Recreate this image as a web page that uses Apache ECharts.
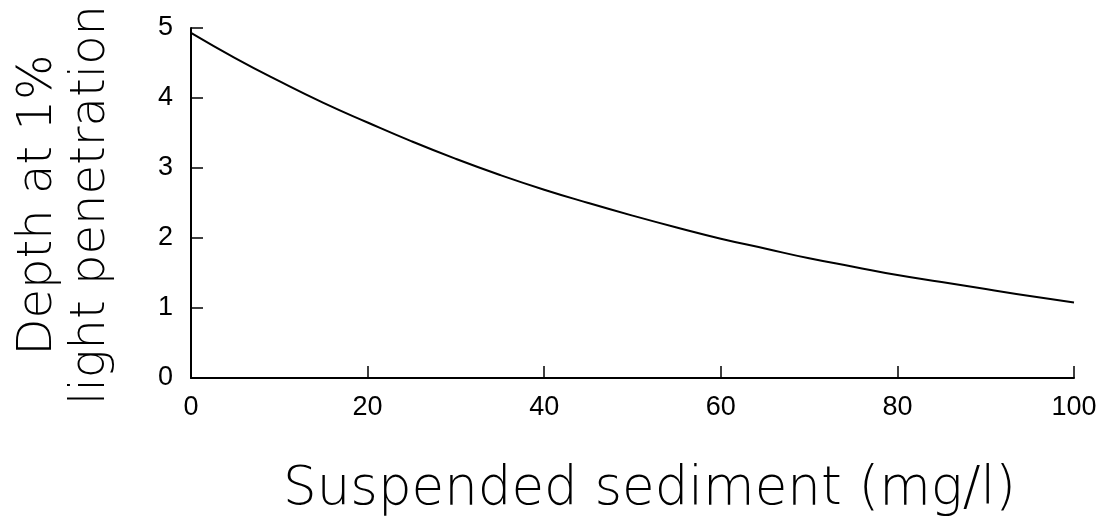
<!DOCTYPE html>
<html>
<head>
<meta charset="utf-8">
<script src="https://cdn.jsdelivr.net/npm/echarts@6/dist/echarts.min.js"></script>
<style>
html,body{margin:0;padding:0;background:#fff;}
#main{width:1109px;height:528px;}
</style>
</head>
<body>
<div id="main"></div>
<script>
var myChart = echarts.init(document.getElementById('main'));

// suspended sediment (mg/l)
var sediment = [0,5,10,15,20,25,30,35,40,45,50,55,60,65,70,75,80,85,90,95,100];
// depth at 1% light penetration
var depth = [4.93,4.57,4.24,3.93,3.65,3.38,3.13,2.90,2.69,2.50,2.32,2.15,1.99,1.85,1.71,1.59,1.47,1.37,1.27,1.17,1.08];

var xTitle = 'Suspended sediment (mg/l)';
var yTitle = 'Depth at 1%\nlight penetration';

var FONT = 'DejaVu Sans';
var TICKFONT = 'Liberation Sans';

function pairs(a,b){
  var out=[];
  for(var i=0;i<a.length;i++){
    out.push([a[i],b[i]]);
  }
  return out;
}

var option = {
  backgroundColor:'#fff',
  animation:false,
  grid:{
    left:191,
    right:35,
    top:28,
    bottom:150,
    containLabel:false,
    outerBoundsMode:'none'
  },
  xAxis:{
    type:'value',
    min:0,
    max:100,
    interval:20,
    name:xTitle,
    nameLocation:'middle',
    nameGap:86,
    nameTextStyle:{color:'#000',fontFamily:FONT,fontWeight:200,fontSize:53,padding:[0,0,0,34]},
    axisLine:{onZero:false,lineStyle:{color:'#000',width:2}},
    axisTick:{inside:true,length:12,lineStyle:{color:'#000',width:1.5}},
    axisLabel:{color:'#000',fontFamily:TICKFONT,fontSize:27,margin:16},
    splitLine:{show:false}
  },
  yAxis:{
    type:'value',
    min:0,
    max:5,
    interval:1,
    name:yTitle,
    nameLocation:'middle',
    nameGap:73,
    nameTextStyle:{color:'#000',fontFamily:FONT,fontWeight:200,fontSize:48,lineHeight:53,align:'center',padding:[0,4,0,0]},
    axisLine:{lineStyle:{color:'#000',width:2}},
    axisTick:{inside:true,length:12,lineStyle:{color:'#000',width:1.5}},
    axisLabel:{color:'#000',fontFamily:TICKFONT,fontSize:27,margin:18},
    splitLine:{show:false}
  },
  series:[{
    name:'depth',
    type:'line',
    smooth:true,
    symbol:'none',
    lineStyle:{color:'#000',width:2},
    data:pairs(sediment,depth)
  }]
};

myChart.setOption(option);
</script>
</body>
</html>
